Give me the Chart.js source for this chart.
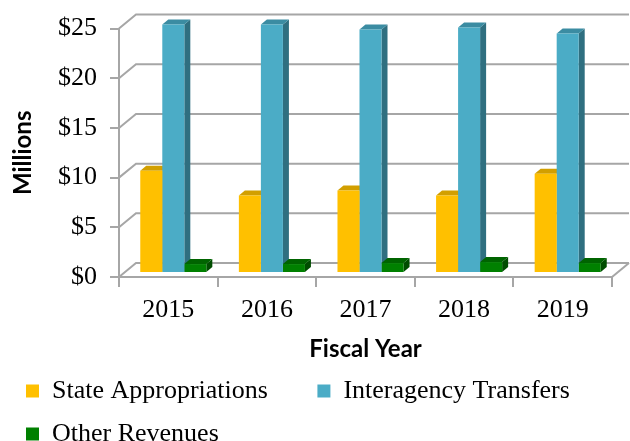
<!DOCTYPE html>
<html lang="en">
<head>
    <meta charset="UTF-8">
    <title>Revenues by Fiscal Year</title>
    <script src="https://cdn.jsdelivr.net/npm/chart.js"></script>
    <style>
        html, body { margin: 0; padding: 0; background: #fff; }
        #caixa { width: 630px; height: 441px; }
    </style>
</head>
<body>
    <div id="caixa"><canvas id="grafico"></canvas></div>

    <script>
        // values in millions
        const years = ['2015', '2016', '2017', '2018', '2019'];
        const stateAppropriations = [10.3, 7.8, 8.3, 7.8, 10.0];
        const interagencyTransfers = [25.0, 25.0, 24.5, 24.7, 24.1];
        const otherRevenues = [0.9, 0.9, 1.0, 1.1, 1.0];
        const yTicks = [0, 5, 10, 15, 20, 25];

        // fake 3d: depth of the walls and of the bars
        const wall = { dx: 17, dy: 14 };
        const bar3d = { offX: 5, offY: 4, dx: 6, dy: 5 };
        const gridColor = '#a6a6a6';

        const fakeDepth = {
            id: 'fakeDepth',
            beforeDatasetsDraw(chart) {
                const ctx = chart.ctx;
                const area = chart.chartArea;
                const yScale = chart.scales.y;
                const y0 = yScale.getPixelForValue(0);

                ctx.save();
                ctx.strokeStyle = gridColor;
                ctx.lineWidth = 2;
                yTicks.forEach(function(v) {
                    const py = yScale.getPixelForValue(v);
                    ctx.beginPath();
                    ctx.moveTo(area.left, py);
                    ctx.lineTo(area.left + wall.dx, py - wall.dy);
                    ctx.lineTo(area.right + wall.dx, py - wall.dy);
                    ctx.stroke();
                });
                ctx.beginPath();
                ctx.moveTo(area.right, y0);
                ctx.lineTo(area.right + wall.dx, y0 - wall.dy);
                ctx.stroke();
                ctx.restore();

                // sides and tops first, the library draws the fronts over them
                ctx.save();
                ctx.translate(bar3d.offX, -bar3d.offY);
                chart.data.datasets.forEach(function(ds, i) {
                    chart.getDatasetMeta(i).data.forEach(function(bar) {
                        const p = bar.getProps(['x', 'y', 'base', 'width'], true);
                        const l = p.x - p.width / 2;
                        const r = p.x + p.width / 2;
                        ctx.fillStyle = ds.sideColor;
                        ctx.beginPath();
                        ctx.moveTo(r, p.y);
                        ctx.lineTo(r + bar3d.dx, p.y - bar3d.dy);
                        ctx.lineTo(r + bar3d.dx, p.base - bar3d.dy);
                        ctx.lineTo(r, p.base);
                        ctx.closePath();
                        ctx.fill();
                        ctx.fillStyle = ds.topColor;
                        ctx.beginPath();
                        ctx.moveTo(l, p.y);
                        ctx.lineTo(l + bar3d.dx, p.y - bar3d.dy);
                        ctx.lineTo(r + bar3d.dx, p.y - bar3d.dy);
                        ctx.lineTo(r, p.y);
                        ctx.closePath();
                        ctx.fill();
                    });
                });
                ctx.restore();

                ctx.save();
                ctx.translate(bar3d.offX, -bar3d.offY);
            },
            afterDatasetsDraw(chart) {
                chart.ctx.restore();
            }
        };

        Chart.defaults.font.family = '"Liberation Serif", "Times New Roman", serif';
        Chart.defaults.font.size = 26;
        Chart.defaults.color = '#000';

        const grafico = new Chart(document.getElementById('grafico'), {
            type: 'bar',
            data: {
                labels: years,
                datasets: [{
                    label: 'State Appropriations',
                    data: stateAppropriations,
                    backgroundColor: '#ffc000',
                    sideColor: '#c99700',
                    topColor: '#d29f00'
                }, {
                    label: 'Interagency Transfers',
                    data: interagencyTransfers,
                    backgroundColor: '#4bacc6',
                    sideColor: '#2f6f80',
                    topColor: '#3b8ca2'
                }, {
                    label: 'Other Revenues',
                    data: otherRevenues,
                    backgroundColor: '#008000',
                    sideColor: '#004d00',
                    topColor: '#006400'
                }]
            },
            options: {
                responsive: true,
                maintainAspectRatio: false,
                animation: false,
                datasets: {
                    bar: { barPercentage: 1, categoryPercentage: 0.67, borderWidth: 0, clip: false }
                },
                layout: { padding: { left: 9, right: 18, top: 28, bottom: -16 } },
                plugins: {
                    tooltip: { enabled: false },
                    legend: {
                        position: 'bottom',
                        align: 'start',
                        labels: {
                            boxWidth: 13,
                            boxHeight: 13,
                            padding: 17,
                            generateLabels(chart) {
                                const items = Chart.defaults.plugins.legend.labels.generateLabels(chart);
                                // wider gap after the first item, like the original
                                items[0].text = items[0].text + '     ';
                                return items;
                            }
                        }
                    }
                },
                scales: {
                    x: {
                        grid: { drawOnChartArea: false, color: gridColor, lineWidth: 2, tickLength: 10 },
                        border: { color: gridColor, width: 2 },
                        ticks: { padding: 8 },
                        title: {
                            display: true,
                            text: 'Fiscal Year',
                            font: { family: 'Lato', weight: 'bold', size: 24 },
                            padding: { top: 0, bottom: -3 }
                        },
                        afterFit(scale) { scale.height = 84; }
                    },
                    y: {
                        min: 0,
                        max: 25,
                        grid: { drawOnChartArea: false, color: gridColor, lineWidth: 2, tickLength: 9 },
                        border: { color: gridColor, width: 2 },
                        ticks: {
                            stepSize: 5,
                            padding: 13,
                            callback: function(v) { return '$' + v; }
                        },
                        title: {
                            display: true,
                            text: 'Millions',
                            font: { family: 'Lato', weight: 'bold', size: 24 },
                            padding: 0
                        },
                        afterFit(scale) { scale.width = 110; }
                    }
                }
            },
            plugins: [fakeDepth]
        });
    </script>
</body>
</html>
